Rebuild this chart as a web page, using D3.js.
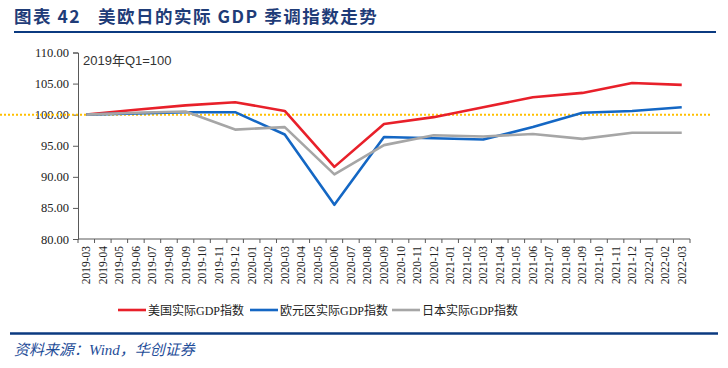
<!DOCTYPE html>
<html>
<head>
<meta charset="utf-8">
<script src="https://cdn.jsdelivr.net/npm/d3@7"></script>
<style>
  body { margin: 0; background: #fff; }
  svg { display: block; }
</style>
</head>
<body>
<div id="chart"></div>
<script>
// monthly categories on the x axis
var months = [
  "2019-03","2019-04","2019-05","2019-06","2019-07","2019-08","2019-09","2019-10","2019-11","2019-12",
  "2020-01","2020-02","2020-03","2020-04","2020-05","2020-06","2020-07","2020-08","2020-09","2020-10",
  "2020-11","2020-12","2021-01","2021-02","2021-03","2021-04","2021-05","2021-06","2021-07","2021-08",
  "2021-09","2021-10","2021-11","2021-12","2022-01","2022-02","2022-03"
];
// quarterly observations (placed at quarter-end months)
var quarters = ["2019-03","2019-06","2019-09","2019-12","2020-03","2020-06","2020-09","2020-12",
  "2021-03","2021-06","2021-09","2021-12","2022-03"];
var usGdp = [100.0, 100.8, 101.5, 102.0, 100.6, 91.6, 98.5, 99.6, 101.2, 102.8, 103.5, 105.1, 104.8];
var euGdp = [100.0, 100.2, 100.4, 100.4, 96.8, 85.5, 96.4, 96.2, 96.0, 98.0, 100.3, 100.6, 101.2];
var jpGdp = [100.0, 100.3, 100.5, 97.6, 98.0, 90.4, 95.1, 96.7, 96.5, 96.9, 96.1, 97.1, 97.1];
var yTicks = [80, 85, 90, 95, 100, 105, 110];
var seriesNames = ["美国实际GDP指数", "欧元区实际GDP指数", "日本实际GDP指数"];
var seriesColors = ["#e8202a", "#1467c4", "#a6a6a6"];

var width = 728, height = 368;
var margin = {top: 52.5, left: 78, right: 38, bottom: 129};
var navy = "#0b3a80";

var svg = d3.select("#chart").append("svg")
    .attr("width", width)
    .attr("height", height);

// title
var title = svg.append("text")
    .attr("x", 14)
    .attr("y", 23)
    .attr("fill", "#1f3c78")
    .style("font-family", "'Noto Sans CJK SC', sans-serif")
    .style("font-weight", "bold")
    .style("font-size", "17.5px")
    .style("letter-spacing", "1.5px")
    .style("white-space", "pre");
title.append("tspan").text("图表 42");
title.append("tspan").attr("x", 98).text("美欧日的实际 GDP 季调指数走势");

svg.append("line")
    .attr("x1", 14).attr("x2", 716)
    .attr("y1", 32).attr("y2", 32)
    .attr("stroke", navy).attr("stroke-width", 2);

var x = d3.scaleBand()
    .domain(months)
    .range([margin.left, width - margin.right])
    .padding(0);

var y = d3.scaleLinear()
    .domain([80, 110])
    .range([height - margin.bottom, margin.top]);

// y axis
var yAxis = d3.axisLeft(y)
    .tickValues(yTicks)
    .tickSize(5)
    .tickFormat(d3.format(".2f"));

var gy = svg.append("g")
    .attr("transform", "translate(" + margin.left + ",0)")
    .call(yAxis);
gy.select(".domain").attr("stroke", "#595959");
gy.selectAll(".tick line").attr("stroke", "#595959");
gy.selectAll(".tick text")
    .attr("x", -9)
    .attr("fill", "#222")
    .style("font-family", "'Liberation Serif', serif")
    .style("font-size", "12.5px");

// x axis: ticks at every category boundary
var gx = svg.append("g")
    .attr("transform", "translate(0," + y(80) + ")");
gx.append("line")
    .attr("x1", margin.left).attr("x2", width - margin.right)
    .attr("stroke", "#595959");
gx.selectAll(".bound")
    .data(d3.range(months.length + 1))
    .join("line")
    .attr("class", "bound")
    .attr("x1", function (i) { return margin.left + i * x.bandwidth(); })
    .attr("x2", function (i) { return margin.left + i * x.bandwidth(); })
    .attr("y1", 0).attr("y2", 4)
    .attr("stroke", "#595959");
gx.selectAll(".lab")
    .data(months)
    .join("text")
    .attr("class", "lab")
    .attr("transform", function (d) {
        return "translate(" + (x(d) + x.bandwidth() / 2 + 4) + ",7) rotate(-90)";
    })
    .attr("text-anchor", "end")
    .attr("fill", "#222")
    .style("font-family", "'Liberation Serif', serif")
    .style("font-size", "11.5px")
    .text(function (d) { return d; });

// 100 reference line
svg.append("line")
    .attr("x1", 0).attr("x2", 712)
    .attr("y1", y(100)).attr("y2", y(100))
    .attr("stroke", "#ffc000")
    .attr("stroke-width", 2)
    .attr("stroke-dasharray", "2,2");

svg.append("text")
    .attr("x", 83)
    .attr("y", 65)
    .attr("fill", "#333")
    .style("font-family", "'Liberation Sans', 'Noto Sans CJK SC', sans-serif")
    .style("font-size", "13px")
    .text("2019年Q1=100");

// series lines
var line = d3.line()
    .x(function (d) { return x(d.q) + x.bandwidth() / 2; })
    .y(function (d) { return y(d.v); });

[usGdp, euGdp, jpGdp].forEach(function (vals, k) {
    var pts = quarters.map(function (q, i) { return {q: q, v: vals[i]}; });
    svg.append("path")
        .datum(pts)
        .attr("fill", "none")
        .attr("stroke", seriesColors[k])
        .attr("stroke-width", 2.6)
        .attr("stroke-linejoin", "round")
        .attr("d", line);
});

// legend
var legendX = [118, 250, 392];
var lg = svg.append("g");
seriesNames.forEach(function (name, k) {
    lg.append("line")
        .attr("x1", legendX[k]).attr("x2", legendX[k] + 28)
        .attr("y1", 310).attr("y2", 310)
        .attr("stroke", seriesColors[k])
        .attr("stroke-width", 2.6);
    lg.append("text")
        .attr("x", legendX[k] + 30)
        .attr("y", 314.5)
        .attr("fill", "#222")
        .style("font-family", "'Liberation Serif', 'Noto Sans CJK SC', serif")
        .style("font-size", "12px")
        .text(name);
});

// footer
svg.append("line")
    .attr("x1", 10).attr("x2", 718)
    .attr("y1", 333.5).attr("y2", 333.5)
    .attr("stroke", navy).attr("stroke-width", 2.5);

svg.append("text")
    .attr("x", 14)
    .attr("y", 355)
    .attr("fill", "#1f4e99")
    .style("font-family", "'Liberation Serif', 'Noto Sans CJK SC', serif")
    .style("font-style", "italic")
    .style("font-size", "15px")
    .text("资料来源：Wind，华创证券");
</script>
</body>
</html>
